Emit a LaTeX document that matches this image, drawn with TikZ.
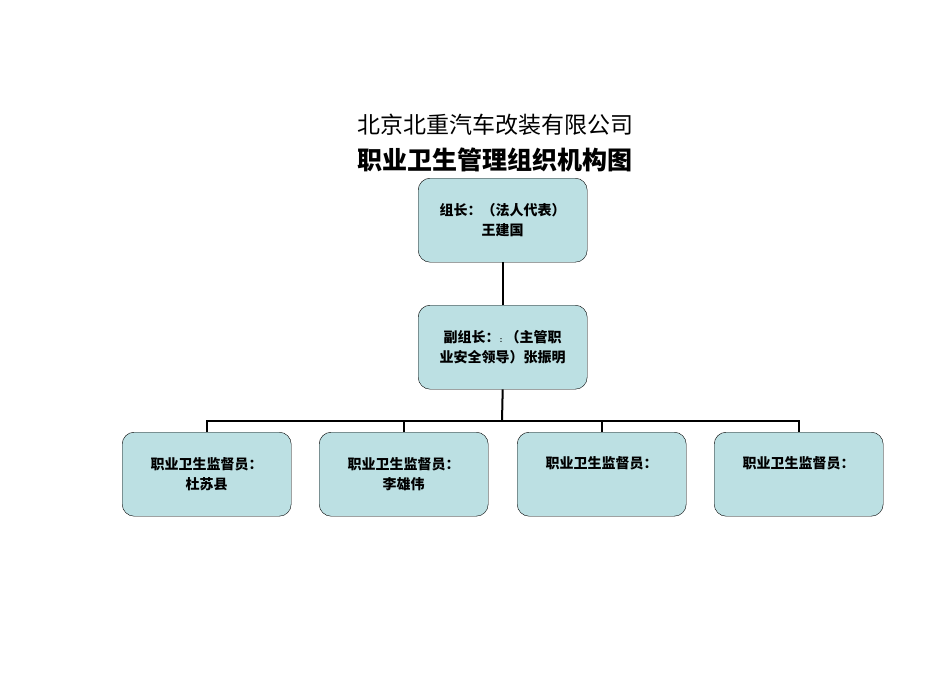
\documentclass[tikz,border=0pt]{standalone}
\usepackage{fontspec}
\newfontfamily\cjk{Noto Sans CJK SC}
\newfontfamily\cjkb{Noto Sans CJK SC Bold}
\begin{document}
\begin{tikzpicture}[x=1pt,y=-1pt,
  box/.style={draw=black,fill={rgb,255:red,188;green,224;blue,227},rounded corners=12pt,minimum width=169pt,minimum height=84pt,anchor=north west,inner sep=0pt,align=center,font=\cjk\bfseries\fontsize{14}{20}\selectfont},
  conn/.style={line width=2pt}]
\useasboundingbox (0,0) rectangle (950,672);
\node[font=\cjk\fontsize{23}{26}\selectfont] (t1) at (495,125) {北京北重汽车改装有限公司};
\node[font=\cjk\bfseries\fontsize{25}{28}\selectfont] (t2) at (495,160) {职业卫生管理组织机构图};
\node[box] (top) at (418,178) {组长：（法人代表）\\王建国};
\node[box] (mid) at (418,305) {副组长：{\fontsize{6}{6}\selectfont ：}（主管职\\业安全领导）张振明};
\node[box] (b1) at (122,432) {职业卫生监督员：\\杜苏县};
\node[box] (b2) at (319,432) {职业卫生监督员：\\李雄伟};
\node[box,text height=14pt,text depth=26pt] (b3) at (517,432) {职业卫生监督员：};
\node[box,text height=14pt,text depth=26pt] (b4) at (714,432) {职业卫生监督员：};
\coordinate (bus) at (502,421);
\draw[conn] (top.south) -- (mid.north);
\draw[conn] (mid.south) -- (bus);
\draw[conn] (b1.north) -- ++(0,-11) -| (b4.north);
\draw[conn] (b2.north) -- ++(0,-11);
\draw[conn] (b3.north) -- ++(0,-11);
\end{tikzpicture}
\end{document}
